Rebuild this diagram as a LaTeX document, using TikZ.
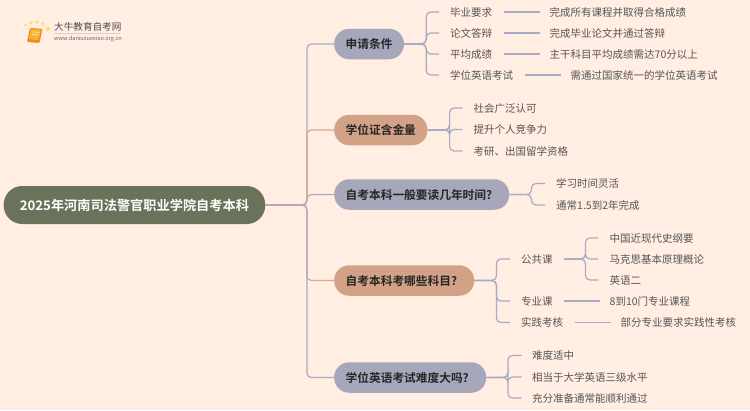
\documentclass[tikz,border=0pt]{standalone}
\usepackage{fontspec}
\setmainfont[BoldFont={Noto Sans CJK SC Bold}]{Noto Sans CJK SC}
\definecolor{bgc}{HTML}{FFEEE1}
\definecolor{bluec}{HTML}{A8ABC6}
\definecolor{peachc}{HTML}{D9A88C}
\definecolor{nblue}{HTML}{A6A7BB}
\definecolor{npeach}{HTML}{D2A287}
\definecolor{rootc}{HTML}{6A7259}
\definecolor{leafc}{HTML}{555555}
\definecolor{dotc}{HTML}{FFDD77}
\definecolor{dotl}{HTML}{FFE9B8}
\definecolor{booka}{HTML}{F08A1C}
\definecolor{bookb}{HTML}{F9B32B}
\tikzset{
  rootnode/.style={fill=rootc,text=white,font=\fontsize{13.2}{15}\selectfont\bfseries,rounded corners=18.5pt,minimum height=38pt,inner sep=0pt,text height=11.5pt,text depth=1.5pt,anchor=west},
  topic/.style={text=black!85,font=\fontsize{11.7}{14}\selectfont\bfseries,rounded corners=15pt,minimum height=30.5pt,inner ysep=0pt,inner xsep=11.5pt,align=left,text height=10.2pt,text depth=1pt,anchor=west},
  bluenode/.style={topic,fill=nblue},
  peachnode/.style={topic,fill=npeach},
  leaf/.style={text=leafc,font=\fontsize{10.5}{12}\selectfont,inner sep=0pt,text height=9.2pt,text depth=.8pt,anchor=west},
  conn/.style={draw=bluec,line width=1.2pt,rounded corners=4.5pt},
  pconn/.style={draw=peachc,line width=1.2pt,rounded corners=4.5pt},
}
\begin{document}
\begin{tikzpicture}[x=1pt,y=-1pt]
\useasboundingbox[fill=bgc] (0,0) rectangle (750,410);
% logo
\fill[dotc] (25.7,25) circle (1.5) (31,22.7) circle (1.8) (37,22) circle (1.9) (42.7,24) circle (1.9) (47.7,29) circle (2.3);
\fill[dotl] (22.7,30.7) circle (1.3) (22.7,36.7) circle (1.1) (23.3,42) circle (.8);
\fill[booka,rounded corners=1pt] (30,28) -- (42.5,28.8) -- (39.5,43) -- (27,42) -- cycle;
\fill[bookb,rounded corners=.8pt] (31,29) -- (41,29.6) -- (38.3,40) -- (28.6,39.2) -- cycle;
\draw[white!75!orange,line width=.7pt] (32.5,32) -- (39.5,32.4) (32,34.5) -- (39,34.9);
\node[text=black!70,font=\fontsize{9.6}{11}\selectfont,inner sep=0pt,anchor=west] (logotitle) at (54,27) {大牛教育自考网};
\node[text=black!60,font=\fontsize{5.6}{7}\selectfont,inner sep=0pt,anchor=west] (logourl) at (54,39) {www.daniuxuexiao.org.cn};
\draw[black!18,line width=.5pt] (54,33.5) -- (120,33.5);
% nodes
\node[rootnode,minimum width=261.5pt] (root) at (3.5,205) {2025年河南司法警官职业学院自考本科};
\node[bluenode,minimum width=69pt] (t1) at (334,44) {申请条件};
\node[peachnode,minimum width=93pt] (t2) at (334,130) {学位证含金量};
\node[bluenode,text width=152pt] (t3) at (334,194.5) {自考本科一般要读几年时间?};
\node[peachnode,text width=117pt] (t4) at (334,280.5) {自考本科考哪些科目?};
\node[bluenode,text width=129pt] (t5) at (334,377.5) {学位英语考试难度大吗?};
% leaves
\node[leaf] (a1) at (450,12) {毕业要求};
\node[leaf] (a2) at (450,33) {论文答辩};
\node[leaf] (a3) at (450,54) {平均成绩};
\node[leaf] (a4) at (450,75) {学位英语考试};
\node[leaf] (a1x) at (549.5,12) {完成所有课程并取得合格成绩};
\node[leaf] (a2x) at (549.5,33) {完成毕业论文并通过答辩};
\node[leaf] (a3x) at (549.5,54) {主干科目平均成绩需达70分以上};
\node[leaf] (a4x) at (570.5,75) {需通过国家统一的学位英语考试};
\node[leaf] (b1) at (473.5,108) {社会广泛认可};
\node[leaf] (b2) at (473.5,129.5) {提升个人竞争力};
\node[leaf] (b3) at (473.5,151) {考研、出国留学资格};
\node[leaf] (c1) at (556,183.5) {学习时间灵活};
\node[leaf] (c2) at (556,205) {通常1.5到2年完成};
\node[leaf] (d1) at (521,259) {公共课};
\node[leaf] (d2) at (521,301) {专业课};
\node[leaf] (d3) at (521,322.5) {实践考核};
\node[leaf] (d1a) at (609.5,238) {中国近现代史纲要};
\node[leaf] (d1b) at (609.5,259) {马克思基本原理概论};
\node[leaf] (d1c) at (609.5,280) {英语二};
\node[leaf] (d2x) at (609.5,301) {8到10门专业课程};
\node[leaf] (d3x) at (620.5,322.5) {部分专业要求实践性考核};
\node[leaf] (e1) at (532,355.5) {难度适中};
\node[leaf] (e2) at (532,377) {相当于大学英语三级水平};
\node[leaf] (e3) at (532,398) {充分准备通常能顺利通过};
% trunk connectors
\draw[conn] (root.east) -- ++(41.5,0) |- (t1.west);
\draw[pconn] (root.east) -- ++(41.5,0) |- (t2.west);
\draw[conn] (root.east) -- ++(41.5,0) |- (t3.west);
\draw[pconn] (root.east) -- ++(41.5,0) |- (t4.west);
\draw[conn] (root.east) -- ++(41.5,0) |- (t5.west);
% branch connectors
\foreach \l in {a1,a2,a3,a4} \draw[conn] (t1.east) -- ++(22,0) |- ([xshift=-11pt]\l.west);
\foreach \l in {b1,b2,b3} \draw[conn] (t2.east) -- ++(22,0) |- ([xshift=-11pt]\l.west);
\foreach \l in {c1,c2} \draw[conn] (t3.east) -- ++(22,0) |- ([xshift=-11pt]\l.west);
\foreach \l in {d1,d2,d3} \draw[conn] (t4.east) -- ++(22,0) |- ([xshift=-11pt]\l.west);
\foreach \l in {e1,e2,e3} \draw[conn] (t5.east) -- ++(21.5,0) |- ([xshift=-10.5pt]\l.west);
\foreach \l in {d1a,d1b,d1c} \draw[conn] ([xshift=11.5pt]d1.east) -- ++(21,0) |- ([xshift=-11.5pt]\l.west);
\foreach \p/\q in {a1/a1x,a2/a2x,a3/a3x,a4/a4x,d2/d2x,d3/d3x} \draw[conn] ([xshift=11.5pt]\p.east) -- ([xshift=-10pt]\q.west);
\end{tikzpicture}
\end{document}
